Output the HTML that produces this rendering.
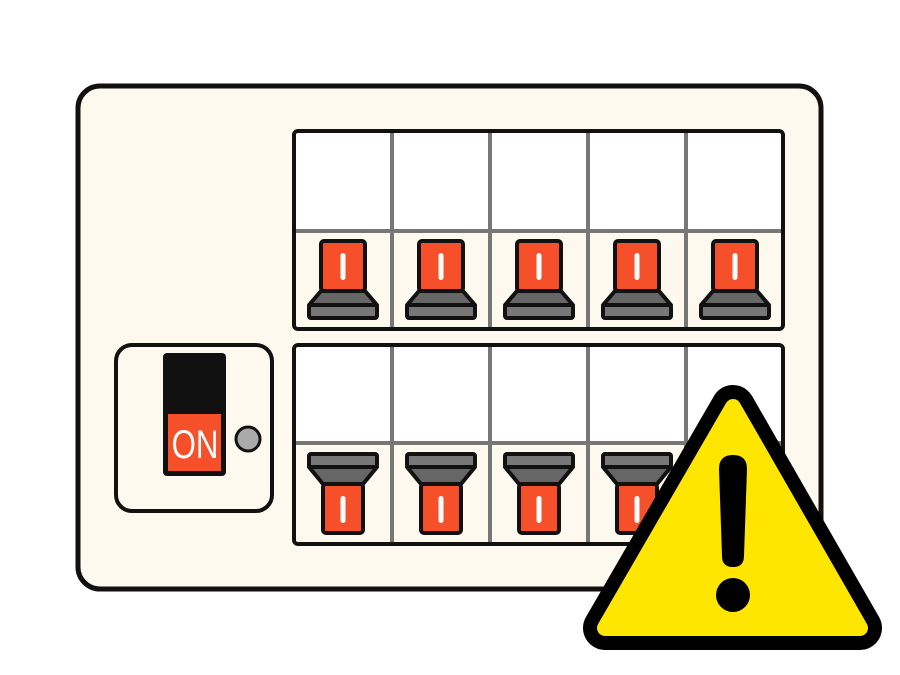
<!DOCTYPE html>
<html><head><meta charset="utf-8"><style>html,body{margin:0;padding:0;background:#fff}svg{display:block}</style></head>
<body>
<svg width="900" height="675" viewBox="0 0 900 675" xmlns="http://www.w3.org/2000/svg">
<rect x="78" y="86" width="743" height="503" rx="22" fill="#fdf9ee" stroke="#111" stroke-width="5"/>
<rect x="294" y="131" width="489" height="100" fill="#fff"/>
<rect x="294" y="345" width="489" height="98" fill="#fff"/>
<g stroke="#777" stroke-width="4">
<line x1="294" y1="231" x2="783" y2="231"/>
<line x1="294" y1="443" x2="783" y2="443"/>
<line x1="392" y1="131" x2="392" y2="329"/><line x1="490" y1="131" x2="490" y2="329"/><line x1="588" y1="131" x2="588" y2="329"/><line x1="686" y1="131" x2="686" y2="329"/>
<line x1="392" y1="345" x2="392" y2="544"/><line x1="490" y1="345" x2="490" y2="544"/><line x1="588" y1="345" x2="588" y2="544"/><line x1="686" y1="345" x2="686" y2="544"/>
</g>
<rect x="294" y="131" width="489" height="198" rx="4" fill="none" stroke="#111" stroke-width="4"/>
<rect x="294" y="345" width="489" height="199" rx="4" fill="none" stroke="#111" stroke-width="4"/>
<defs>
<g id="up" stroke="#111" stroke-width="4" stroke-linejoin="round">
<rect x="-22" y="241" width="44" height="50" rx="3" fill="#f5502a"/>
<path d="M-22 291 L22 291 L34 305 L-34 305 Z" fill="#666"/>
<rect x="-34" y="305" width="68" height="13" rx="2" fill="#777"/>
<rect x="-2.5" y="253" width="5" height="27" rx="2.5" fill="#fff" stroke="none"/>
</g>
<g id="down" stroke="#111" stroke-width="4" stroke-linejoin="round">
<rect x="-34" y="454" width="68" height="13" rx="2" fill="#777"/>
<path d="M-34 467 L34 467 L20 484 L-20 484 Z" fill="#666"/>
<rect x="-20" y="484" width="40" height="49" rx="3" fill="#f5502a"/>
<rect x="-2.5" y="496" width="5" height="27" rx="2.5" fill="#fff" stroke="none"/>
</g>
</defs>
<use href="#up" x="343"/><use href="#up" x="441"/><use href="#up" x="539"/><use href="#up" x="637"/><use href="#up" x="735"/>
<use href="#down" x="343"/><use href="#down" x="441"/><use href="#down" x="539"/><use href="#down" x="637"/><use href="#down" x="735"/>
<rect x="116" y="345" width="156" height="166" rx="16" fill="#fdf9ee" stroke="#111" stroke-width="4"/>
<rect x="163" y="353" width="63" height="123" rx="4" fill="#111"/>
<rect x="168" y="414" width="53" height="57" fill="#f5502a"/>
<text x="195" y="458" text-anchor="middle" font-family="Liberation Sans, sans-serif" font-size="40" fill="#fff" transform="translate(195 0) scale(0.78 1) translate(-195 0)">ON</text>
<circle cx="248" cy="439" r="12" fill="#aaa" stroke="#111" stroke-width="3"/>
<path d="M733 407 L605 628 L860 628 Z" fill="#000" stroke="#000" stroke-width="44" stroke-linejoin="round"/>
<path d="M733 407 L605 628 L860 628 Z" fill="#ffe600" stroke="#ffe600" stroke-width="16" stroke-linejoin="round"/>
<path d="M719 469 Q719 455 733 455 Q747 455 747 469 L744 556 Q744 567 733 567 Q722 567 722 556 Z" fill="#000"/>
<circle cx="733" cy="595" r="17" fill="#000"/>
</svg>
</body></html>
